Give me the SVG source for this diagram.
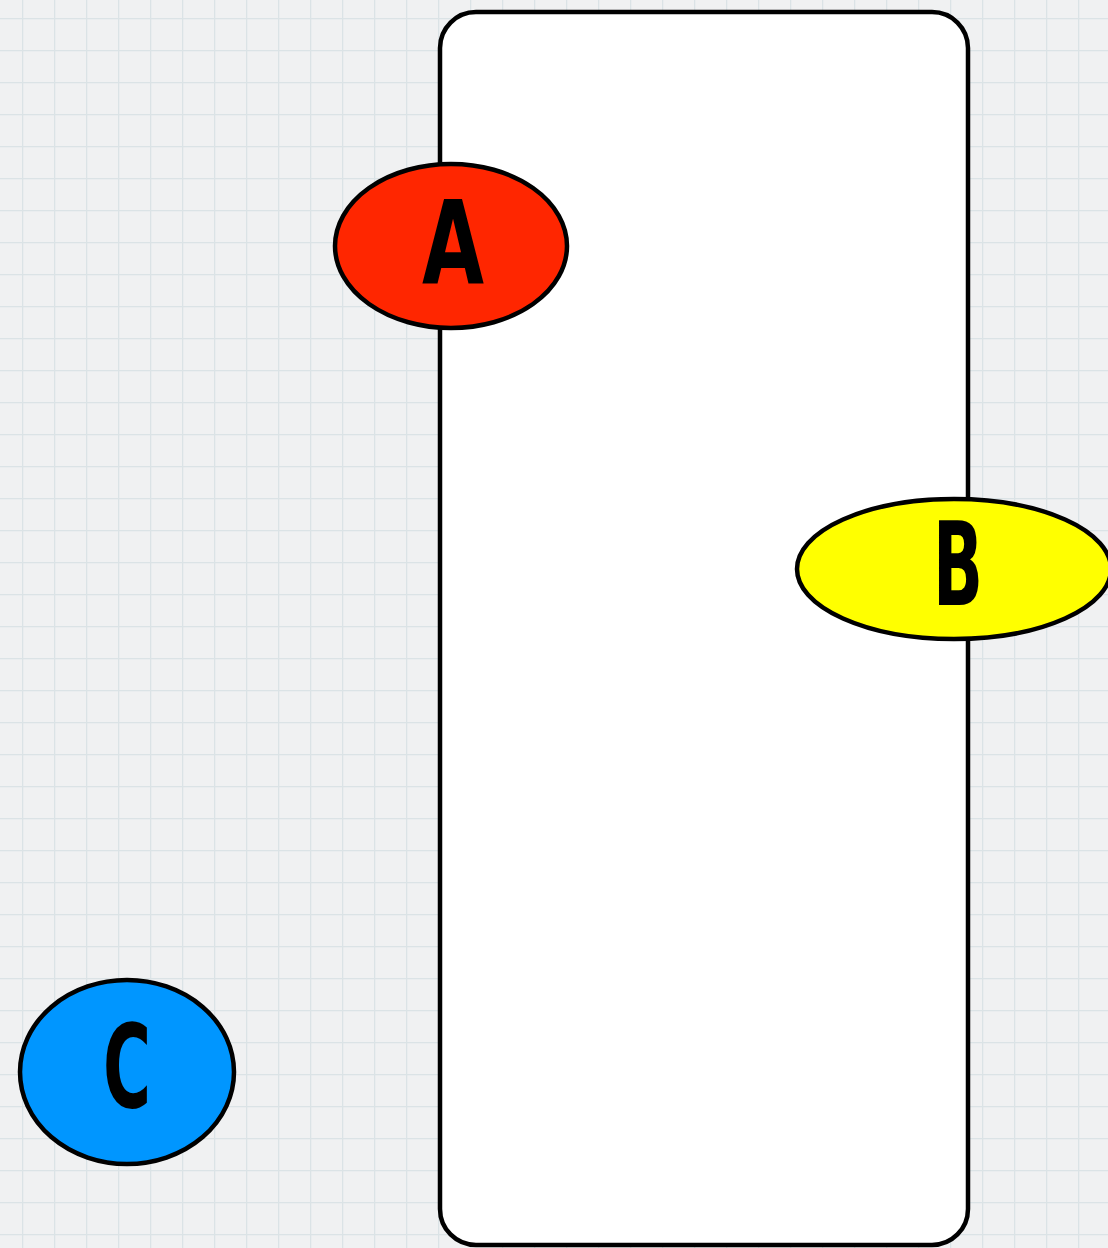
<svg xmlns="http://www.w3.org/2000/svg" width="1108" height="1248" viewBox="0 0 1108 1248">
<defs>
<pattern id="grid" x="22" y="18" width="32" height="32" patternUnits="userSpaceOnUse">
<rect width="32" height="32" fill="#f0f1f2"/>
<path d="M0 0 H32 M0 0 V32" stroke="#dbe3e6" stroke-width="2.5" fill="none"/>
</pattern>
<style>
.node{stroke:#000;stroke-width:4.5}
.lbl{font-family:"DejaVu Sans Condensed","DejaVu Sans",sans-serif;font-weight:bold;font-size:116px;text-anchor:middle;fill:#000}
</style>
</defs>
<rect width="1108" height="1248" fill="url(#grid)"/>
<g id="container">
<rect class="node" x="440" y="12" width="528" height="1233" rx="36" fill="#ffffff"/>
</g>
<g id="connectors"></g>
<g id="nodeA">
<ellipse class="node" cx="451" cy="246" rx="116" ry="82" fill="#ff2600"/>
<text class="lbl" x="453" y="283" textLength="62" lengthAdjust="spacingAndGlyphs">A</text>
</g>
<g id="nodeB">
<ellipse class="node" cx="954" cy="569" rx="157" ry="70" fill="#ffff00"/>
<text class="lbl" x="958" y="605" textLength="50" lengthAdjust="spacingAndGlyphs">B</text>
</g>
<g id="nodeC">
<ellipse class="node" cx="127" cy="1072" rx="107" ry="92" fill="#0096ff"/>
<text class="lbl" x="127" y="1107" textLength="48" lengthAdjust="spacingAndGlyphs">C</text>
</g>
</svg>
